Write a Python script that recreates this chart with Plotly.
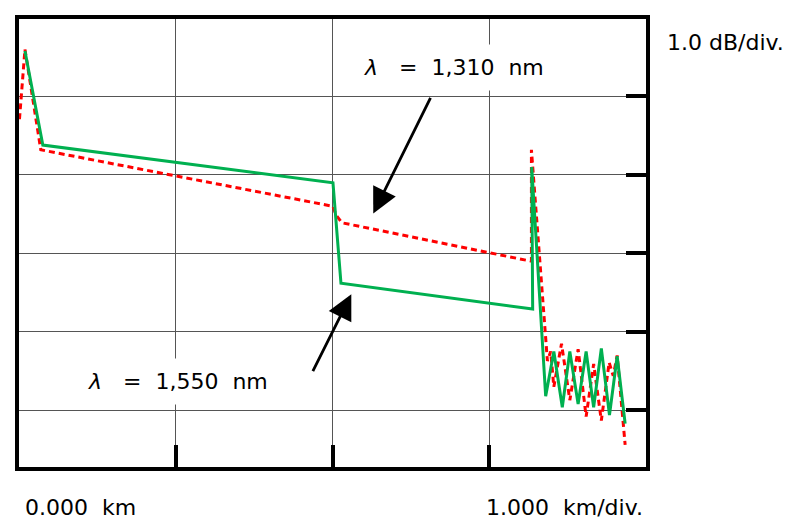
import plotly.graph_objects as go

# Distance (km) and relative level (dB)
green_km = [0.038, 0.152, 2.003, 2.054, 3.277, 3.271, 3.360, 3.412, 3.466, 3.514,
            3.567, 3.618, 3.666, 3.715, 3.767, 3.816, 3.867]
green_db = [5.58, 4.38, 3.90, 2.62, 2.29, 4.10, 1.18, 1.75, 1.04, 1.75,
            1.08, 1.75, 1.04, 1.79, 0.94, 1.69, 0.83]

red_km = [0.003, 0.038, 0.139, 2.003, 2.022, 2.060, 3.269, 3.269, 3.371, 3.392,
          3.412, 3.461, 3.514, 3.567, 3.618, 3.666, 3.715, 3.765, 3.791, 3.816, 3.867]
red_db = [4.71, 5.60, 4.32, 3.60, 3.49, 3.39, 2.90, 4.32, 1.63, 1.75,
          1.30, 1.85, 1.13, 1.78, 0.92, 1.59, 0.87, 1.61, 1.44, 1.70, 0.56]

x_ticks = [1, 2, 3]
y_ticks = [1, 2, 3, 4, 5]

label_1310 = "<i>λ</i>\u00a0\u00a0\u00a0=\u00a0\u00a01,310\u00a0\u00a0nm"
label_1550 = "<i>λ</i>\u00a0\u00a0\u00a0=\u00a0\u00a01,550\u00a0\u00a0nm"
label_db = "1.0 dB/div."
label_km0 = "0.000\u00a0\u00a0km"
label_kmdiv = "1.000\u00a0\u00a0km/div."

# arrows: (tail_km, tail_db, head_km, head_db)
arrow_1310 = (2.63, 5.00, 2.26, 3.51)
arrow_1550 = (1.87, 1.48, 2.12, 2.48)

FONT = "DejaVu Sans, Noto Sans, sans-serif"

fig = go.Figure()
fig.add_trace(go.Scatter(x=red_km, y=red_db, mode="lines",
                         line=dict(color="#ff0000", width=3, dash="6px,4px"),
                         showlegend=False, hoverinfo="skip"))
fig.add_trace(go.Scatter(x=green_km, y=green_db, mode="lines",
                         line=dict(color="#00b050", width=3),
                         showlegend=False, hoverinfo="skip"))

annotations = [
    dict(x=0.694, y=0.892, xref="paper", yref="paper", text=label_1310,
         showarrow=False, bgcolor="white", borderpad=10,
         xanchor="center", yanchor="middle",
         font=dict(family=FONT, size=22, color="black")),
    dict(x=0.2536, y=0.19, xref="paper", yref="paper", text=label_1550,
         showarrow=False, bgcolor="white", borderpad=10,
         xanchor="center", yanchor="middle",
         font=dict(family=FONT, size=22, color="black")),
    dict(x=1.03, y=0.947, xref="paper", yref="paper", text=label_db,
         showarrow=False, xanchor="left", yanchor="middle",
         font=dict(family=FONT, size=22, color="black")),
    dict(x=0.006, y=-0.091, xref="paper", yref="paper", text=label_km0,
         showarrow=False, xanchor="left", yanchor="middle",
         font=dict(family=FONT, size=22, color="black")),
    dict(x=0.741, y=-0.091, xref="paper", yref="paper", text=label_kmdiv,
         showarrow=False, xanchor="left", yanchor="middle",
         font=dict(family=FONT, size=22, color="black")),
]
for (tx, ty, hx, hy) in [arrow_1310, arrow_1550]:
    annotations.append(dict(x=hx, y=hy, ax=tx, ay=ty, xref="x", yref="y",
                            axref="x", ayref="y", text="", showarrow=True,
                            arrowhead=2, arrowsize=1.8, arrowwidth=2.8,
                            arrowcolor="black"))

fig.update_layout(
    width=794, height=520,
    margin=dict(l=7, r=156, t=8, b=61),
    paper_bgcolor="white", plot_bgcolor="white",
    annotations=annotations,
    xaxis=dict(range=[0, 4], tickvals=x_ticks, showticklabels=False,
               showgrid=True, gridcolor="#555555", gridwidth=1.3,
               zeroline=False, showline=True, linecolor="black", linewidth=4,
               mirror=True, ticks="inside", ticklen=22, tickwidth=4,
               tickcolor="black"),
    yaxis=dict(range=[0.278, 5.987], tickvals=y_ticks, showticklabels=False,
               side="right",
               showgrid=True, gridcolor="#555555", gridwidth=1.3,
               zeroline=False, showline=True, linecolor="black", linewidth=4,
               mirror=True, ticks="inside", ticklen=20, tickwidth=4,
               tickcolor="black"),
)

fig.write_html("out.html")
